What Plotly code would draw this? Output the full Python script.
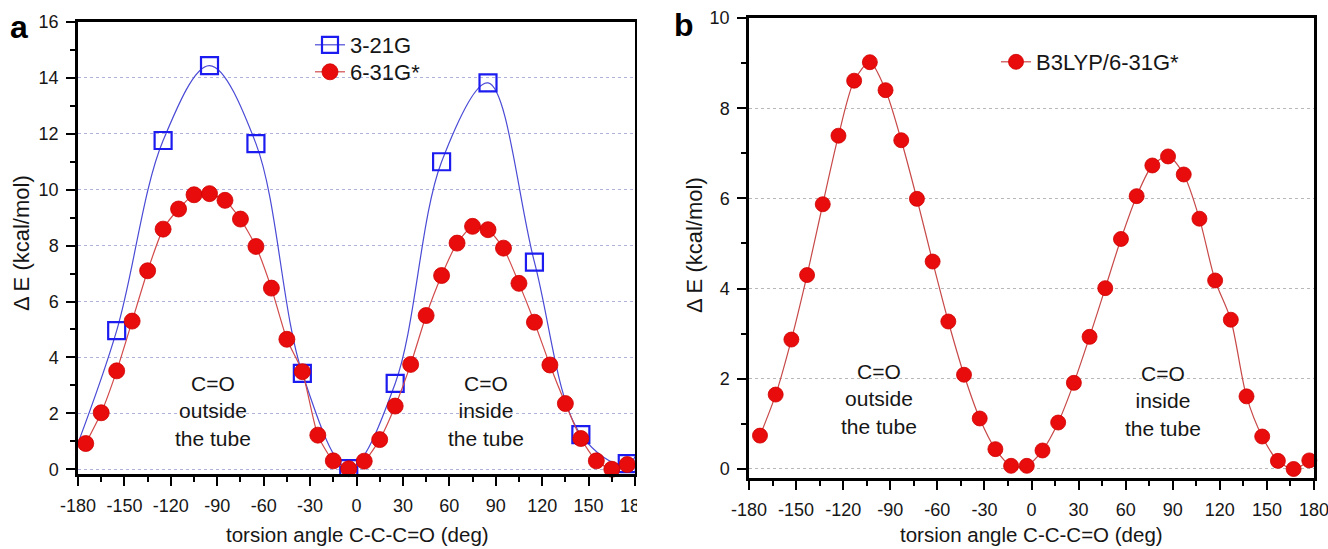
import plotly.graph_objects as go

# ---------------- data ----------------
# (a) HF torsion scan, two basis sets
angle_321g = [-155, -125, -95, -65, -35, -5, 25, 55, 85, 115, 145, 175]
energy_321g = [4.96, 11.76, 14.44, 11.65, 3.43, 0.02, 3.07, 11.0, 13.82, 7.41, 1.24, 0.20]

angle_631g = [-175, -165, -155, -145, -135, -125, -115, -105, -95, -85, -75, -65,
              -55, -45, -35, -25, -15, -5, 5, 15, 25, 35, 45, 55,
              65, 75, 85, 95, 105, 115, 125, 135, 145, 155, 165, 175]
energy_631g = [0.92, 2.02, 3.52, 5.30, 7.10, 8.59, 9.31, 9.82, 9.86, 9.62, 8.95, 7.97,
               6.48, 4.65, 3.49, 1.22, 0.30, 0.02, 0.29, 1.06, 2.26, 3.75, 5.50, 6.93,
               8.09, 8.69, 8.57, 7.91, 6.65, 5.26, 3.73, 2.35, 1.10, 0.30, 0.0, 0.17]

# (b) B3LYP/6-31G* torsion scan
angle_b3lyp = [-173, -163, -153, -143, -133, -123, -113, -103, -93, -83, -73, -63,
               -53, -43, -33, -23, -13, -3, 7, 17, 27, 37, 47, 57,
               67, 77, 87, 97, 107, 117, 127, 137, 147, 157, 167, 177]
energy_b3lyp = [0.74, 1.65, 2.87, 4.30, 5.87, 7.39, 8.61, 9.02, 8.40, 7.29, 5.99, 4.60,
                3.27, 2.09, 1.12, 0.44, 0.07, 0.07, 0.41, 1.03, 1.91, 2.93, 4.01, 5.10,
                6.05, 6.73, 6.93, 6.53, 5.55, 4.18, 3.31, 1.61, 0.72, 0.18, 0.00, 0.19]

x_ticks = [-180, -150, -120, -90, -60, -30, 0, 30, 60, 90, 120, 150, 180]
x_tick_text = ["-180", "-150", "-120", "-90", "-60", "-30", "0", "30", "60", "90", "120", "150", "180"]

W, H = 1328, 549
FONT = "Liberation Sans, Arial, sans-serif"
INK = "#000000"
TXT = "#161616"


def fx(p):
    return p / W


def fy(p):
    return 1 - p / H


# the torsion is periodic: wrap the end points so the smooth curve runs to the frame
wrap_x = [angle_321g[-1] - 360] + angle_321g + [angle_321g[0] + 360]
wrap_y = [energy_321g[-1]] + energy_321g + [energy_321g[0]]

fig = go.Figure()

fig.add_trace(go.Scatter(
    x=wrap_x, y=wrap_y, name="3-21G", mode="lines+markers",
    line=dict(color="#4a4ad6", width=1.2, shape="spline", smoothing=1.0),
    marker=dict(symbol="square-open", size=17, color="#1c1cf0", line=dict(width=2.2, color="#1c1cf0")),
    xaxis="x", yaxis="y", legend="legend", cliponaxis=True,
))
fig.add_trace(go.Scatter(
    x=angle_631g, y=energy_631g, name="6-31G*", mode="lines+markers",
    line=dict(color="#d24a4a", width=1.2, shape="spline", smoothing=0.6),
    marker=dict(symbol="circle", size=16, color="#e80c0c", line=dict(width=0.8, color="#d00000")),
    xaxis="x", yaxis="y", legend="legend3", cliponaxis=False,
))
fig.add_trace(go.Scatter(
    x=angle_b3lyp, y=energy_b3lyp, name="B3LYP/6-31G*", mode="lines+markers",
    line=dict(color="#c84848", width=1.2, shape="spline", smoothing=0.8),
    marker=dict(symbol="circle", size=15, color="#e80c0c", line=dict(width=0.8, color="#d00000")),
    xaxis="x2", yaxis="y2", legend="legend2", cliponaxis=False,
))


def x_axis(domain):
    return dict(
        domain=domain, range=[-180, 180], tickmode="array", tickvals=x_ticks, ticktext=x_tick_text,
        ticks="outside", ticklen=9, tickwidth=2, tickcolor=INK,
        minor=dict(ticks="outside", ticklen=5, tickwidth=2, tickcolor=INK, dtick=15, tick0=-180, showgrid=False),
        showline=True, linewidth=2.5, linecolor=INK, mirror=True,
        showgrid=False, zeroline=False, ticklabelstandoff=5, automargin=False,
        ticklabeloverflow="allow",
        tickfont=dict(family=FONT, size=18, color=TXT),
    )


def y_axis(domain, rng, dtick, grid, anchor):
    return dict(
        domain=domain, range=rng, dtick=dtick, tick0=0, anchor=anchor,
        ticks="outside", ticklen=9, tickwidth=2, tickcolor=INK,
        minor=dict(ticks="outside", ticklen=5, tickwidth=2, tickcolor=INK, dtick=dtick / 2, tick0=0, showgrid=False),
        showline=True, linewidth=2.5, linecolor=INK, mirror=True,
        showgrid=True, gridcolor=grid, griddash="dot", gridwidth=1,
        zeroline=False, ticklabelstandoff=4, automargin=False,
        tickfont=dict(family=FONT, size=18, color=TXT),
    )


def y_right(over, anchor, rng, dtick):
    return dict(
        overlaying=over, anchor=anchor, side="right", range=rng, dtick=dtick, tick0=0,
        ticks="inside", ticklen=7, tickwidth=2, tickcolor=INK,
        minor=dict(ticks="inside", ticklen=4, tickwidth=2, tickcolor=INK, dtick=dtick / 2, tick0=0, showgrid=False),
        showticklabels=False, showgrid=False, zeroline=False, showline=False, automargin=False,
    )


def legend_box(x, y):
    return dict(x=fx(x), y=fy(y), xanchor="left", yanchor="middle",
                font=dict(family=FONT, size=22, color=TXT), bgcolor="rgba(0,0,0,0)",
                itemwidth=30)


ya_dom = [fy(474), fy(22)]
yb_dom = [fy(478), fy(18)]

fig.update_layout(
    template="none",
    width=W, height=H, margin=dict(l=0, r=0, t=0, b=0, autoexpand=False),
    paper_bgcolor="white", plot_bgcolor="white",
    font=dict(family=FONT, color=TXT),
    xaxis=x_axis([fx(78), fx(635)]) | dict(anchor="y"),
    yaxis=y_axis(ya_dom, [-0.17, 16], 2, "#aeb2dc", "x"),
    yaxis3=y_right("y", "x", [-0.17, 16], 2),
    xaxis2=x_axis([fx(749), fx(1314)]) | dict(anchor="y2"),
    yaxis2=y_axis(yb_dom, [-0.2, 10], 2, "#b8b8b8", "x2"),
    yaxis4=y_right("y2", "x2", [-0.2, 10], 2),
    legend=legend_box(310, 45),
    legend3=legend_box(310, 72),
    legend2=legend_box(996, 62),
    showlegend=True,
)

ann_font = dict(family=FONT, size=21, color=TXT)
annotations = [
    dict(text="C=O<br>outside<br>the tube", x=-93, y=2.1, xref="x", yref="y"),
    dict(text="C=O<br>inside<br>the tube", x=84, y=2.1, xref="x", yref="y"),
    dict(text="C=O<br>outside<br>the tube", x=-97, y=1.55, xref="x2", yref="y2"),
    dict(text="C=O<br>inside<br>the tube", x=83.5, y=1.5, xref="x2", yref="y2"),
]
for a in annotations:
    fig.add_annotation(**a, showarrow=False, font=ann_font, align="center",
                       xanchor="center", yanchor="middle")

# axis titles
for xc, txt in [(357, "torsion angle C-C-C=O (deg)"), (1031, "torsion angle C-C-C=O (deg)")]:
    fig.add_annotation(text=txt, x=fx(xc), y=fy(534), xref="paper", yref="paper",
                       showarrow=False, font=dict(family=FONT, size=20.5, color=TXT),
                       xanchor="center", yanchor="middle")
for xc, yc in [(21, 243), (694, 245)]:
    fig.add_annotation(text="\u0394 E (kcal/mol)", x=fx(xc), y=fy(yc), xref="paper", yref="paper",
                       showarrow=False, font=dict(family=FONT, size=22, color=TXT),
                       textangle=-90, xanchor="center", yanchor="middle")

# panel letters
fig.add_annotation(text="<b>a</b>", x=fx(19), y=fy(27), xref="paper", yref="paper",
                   xanchor="center", yanchor="middle",
                   showarrow=False, font=dict(family=FONT, size=32, color="black"))
fig.add_annotation(text="<b>b</b>", x=fx(684), y=fy(25), xref="paper", yref="paper",
                   xanchor="center", yanchor="middle",
                   showarrow=False, font=dict(family=FONT, size=32, color="black"))

# panel (a) is trimmed just past its right frame
fig.add_shape(type="rect", xref="paper", yref="paper", x0=fx(637), x1=fx(664), y0=0, y1=1,
              fillcolor="white", line=dict(width=0), layer="above")

fig.write_html("out.html")
